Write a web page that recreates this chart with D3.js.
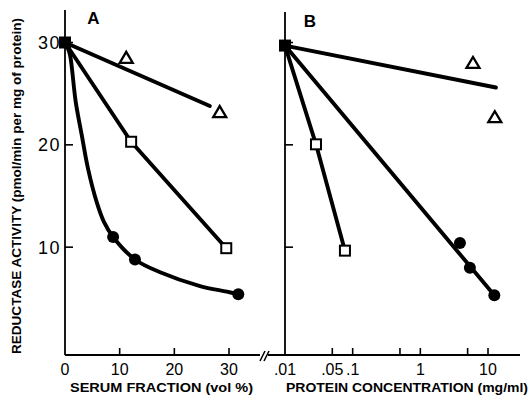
<!DOCTYPE html>
<html><head><meta charset="utf-8">
<script src="https://cdn.jsdelivr.net/npm/d3@7"></script>
<style>body{margin:0;background:#fff}</style></head>
<body><svg id="c" width="529" height="403"></svg>
<script>
// ---------- data ----------
const yTickValues = [10, 20, 30];
const yTickLabels = ["10", "20", "30"];
const xTicksA = [0, 10, 20, 30];
const xTickLabelsA = ["0", "10", "20", "30"];
const xTicksB = [0.01, 0.05, 0.1, 0.5, 1, 5, 10];
const xTickLabelsB = [".01", ".05", ".1", "", "1", "", "10"];

// Panel A (serum fraction, vol %)
const controlA = [{x: 0, y: 30}];
const trianglesA = [{x: 11.2, y: 28.5}, {x: 28.3, y: 23.2}];
const triangleFitA = [{x: 0, y: 30}, {x: 26.5, y: 23.8}];
const openSquaresA = [{x: 12.1, y: 20.3}, {x: 29.5, y: 9.9}];
const circlesA = [{x: 8.8, y: 11.0}, {x: 12.8, y: 8.8}, {x: 31.7, y: 5.4}];
const circleFitA = [
  {x: 0.4, y: 29.6}, {x: 0.91, y: 28.8}, {x: 1.96, y: 24.2}, {x: 3.05, y: 21.0},
  {x: 4.2, y: 17.7}, {x: 5.8, y: 14.4}, {x: 7.1, y: 12.5}, {x: 8.8, y: 11.0},
  {x: 12.8, y: 8.8}, {x: 17.4, y: 7.55}, {x: 24.7, y: 6.2}, {x: 29.6, y: 5.65},
  {x: 31.7, y: 5.4}
];

// Panel B (protein concentration, mg/ml)
const controlB = [{x: 0.01, y: 29.7}];
const trianglesB = [{x: 6.0, y: 28.0}, {x: 12.6, y: 22.7}];
const triangleFitB = [{x: 0.01, y: 29.7}, {x: 13.1, y: 25.6}];
const openSquaresB = [{x: 0.0287, y: 20.05}, {x: 0.0769, y: 9.66}];
const circlesB = [{x: 3.85, y: 10.4}, {x: 5.4, y: 8.0}, {x: 12.4, y: 5.3}];
const circleFitB = [{x: 0.01, y: 29.7}, {x: 12.4, y: 5.3}];

// ---------- layout ----------
const svg = d3.select("#c");
svg.append("rect").attr("width", 529).attr("height", 403).attr("fill", "#fff");

const axisY = 355;
const y = d3.scaleLinear().domain([0, 30]).range([349.5, 42.5]);
const xA = d3.scaleLinear().domain([0, 30]).range([65, 229]);
const xB = d3.scaleLog().domain([0.01, 10]).range([285, 488]);

const ink = "#000";
const tickFont = "'Liberation Sans', Arial, sans-serif";

function drawPanel(g, x, xTicks, xLabels, yAxisX, yTop, xStart, xEnd, showYLabels) {
  g.append("line").attr("x1", yAxisX).attr("x2", yAxisX).attr("y1", yTop).attr("y2", axisY)
    .attr("stroke", ink).attr("stroke-width", 1.8);
  g.append("line").attr("x1", xStart).attr("x2", xEnd).attr("y1", axisY).attr("y2", axisY)
    .attr("stroke", ink).attr("stroke-width", 1.8);
  g.selectAll(".yt").data(yTickValues).join("line")
    .attr("x1", yAxisX).attr("x2", yAxisX + 8)
    .attr("y1", d => y(d)).attr("y2", d => y(d))
    .attr("stroke", ink).attr("stroke-width", 1.6);
  if (showYLabels) {
    g.selectAll(".yl").data(yTickValues).join("text")
      .attr("x", yAxisX - 4).attr("y", d => y(d)).attr("dy", "0.36em")
      .attr("text-anchor", "end").attr("font-family", tickFont)
      .attr("font-size", 18).attr("letter-spacing", 1.5).attr("fill", ink)
      .text((d, i) => yTickLabels[i]);
  }
  g.selectAll(".xt").data(xTicks.filter(d => x(d) > yAxisX + 1)).join("line")
    .attr("x1", d => x(d)).attr("x2", d => x(d))
    .attr("y1", axisY).attr("y2", axisY - 7)
    .attr("stroke", ink).attr("stroke-width", 1.6);
  g.selectAll(".xl").data(xTicks).join("text")
    .attr("x", d => x(d)).attr("y", 375)
    .attr("text-anchor", "middle").attr("font-family", tickFont)
    .attr("font-size", 16).attr("fill", ink)
    .text((d, i) => xLabels[i]);
}

const gA = svg.append("g");
const gB = svg.append("g");
drawPanel(gA, xA, xTicksA, xTickLabelsA, 65, 10, 65, 260, true);
drawPanel(gB, xB, xTicksB, xTickLabelsB, 285, 12, 268, 520, false);

// break marks
const brk = svg.append("g").attr("stroke", ink).attr("stroke-width", 1.6);
[0, 4].forEach(o => brk.append("line")
  .attr("x1", 260 + o).attr("y1", 361).attr("x2", 265 + o).attr("y2", 351));

// ---------- data lines ----------
function line(x, curve) {
  return d3.line().x(d => x(d.x)).y(d => y(d.y)).curve(curve || d3.curveLinear);
}
const lw = 3.9;
function path(g, data, x, curve) {
  g.append("path").datum(data).attr("d", line(x, curve)(data))
    .attr("fill", "none").attr("stroke", ink).attr("stroke-width", lw)
    .attr("stroke-linecap", "round").attr("stroke-linejoin", "round");
}
path(gA, triangleFitA, xA);
path(gA, controlA.concat(openSquaresA), xA);
path(gA, circleFitA, xA, d3.curveCatmullRom.alpha(0.5));
path(gB, triangleFitB, xB);
path(gB, controlB.concat(openSquaresB), xB);
path(gB, circleFitB, xB);

// ---------- markers ----------
function markers(g, x, tri, open, circ, ctrl) {
  g.selectAll(".tri").data(tri).join("path")
    .attr("d", d => {
      const cx = x(d.x), cy = y(d.y);
      return `M${cx - 6.5},${cy + 5} L${cx + 6.5},${cy + 5} L${cx},${cy - 6} Z`;
    })
    .attr("fill", "#fff").attr("stroke", ink).attr("stroke-width", 2.3)
    .attr("stroke-linejoin", "miter");
  g.selectAll(".osq").data(open).join("rect")
    .attr("x", d => x(d.x) - 5).attr("y", d => y(d.y) - 5)
    .attr("width", 10).attr("height", 10)
    .attr("fill", "#fff").attr("stroke", ink).attr("stroke-width", 2);
  g.selectAll(".cir").data(circ).join("circle")
    .attr("cx", d => x(d.x)).attr("cy", d => y(d.y)).attr("r", 6)
    .attr("fill", ink);
  g.selectAll(".fsq").data(ctrl).join("rect")
    .attr("x", d => x(d.x) - 6).attr("y", d => y(d.y) - 6)
    .attr("width", 12).attr("height", 12).attr("fill", ink);
}
markers(gA, xA, trianglesA, openSquaresA, circlesA, controlA);
markers(gB, xB, trianglesB, openSquaresB, circlesB, controlB);

// ---------- text ----------
const labFont = "'Liberation Sans', Arial, sans-serif";
svg.append("text").attr("x", 93.5).attr("y", 24).attr("text-anchor", "middle")
  .attr("font-family", labFont).attr("font-weight", "bold").attr("font-size", 17).text("A");
svg.append("text").attr("x", 310).attr("y", 27).attr("text-anchor", "middle")
  .attr("font-family", labFont).attr("font-weight", "bold").attr("font-size", 17).text("B");

svg.append("text").attr("x", 161.5).attr("y", 392).attr("text-anchor", "middle")
  .attr("font-family", labFont).attr("font-weight", "bold").attr("font-size", 13)
  .attr("textLength", 183).attr("lengthAdjust", "spacingAndGlyphs")
  .text("SERUM FRACTION (vol %)");
svg.append("text").attr("x", 407).attr("y", 392).attr("text-anchor", "middle")
  .attr("font-family", labFont).attr("font-weight", "bold").attr("font-size", 13)
  .attr("textLength", 242).attr("lengthAdjust", "spacingAndGlyphs")
  .text("PROTEIN CONCENTRATION (mg/ml)");

svg.append("text")
  .attr("transform", "translate(21,186) rotate(-90)")
  .attr("text-anchor", "middle")
  .attr("font-family", labFont).attr("font-weight", "bold").attr("font-size", 13)
  .attr("textLength", 336).attr("lengthAdjust", "spacingAndGlyphs")
  .text("REDUCTASE ACTIVITY (pmol/min per mg of protein)");
</script>
</body></html>
